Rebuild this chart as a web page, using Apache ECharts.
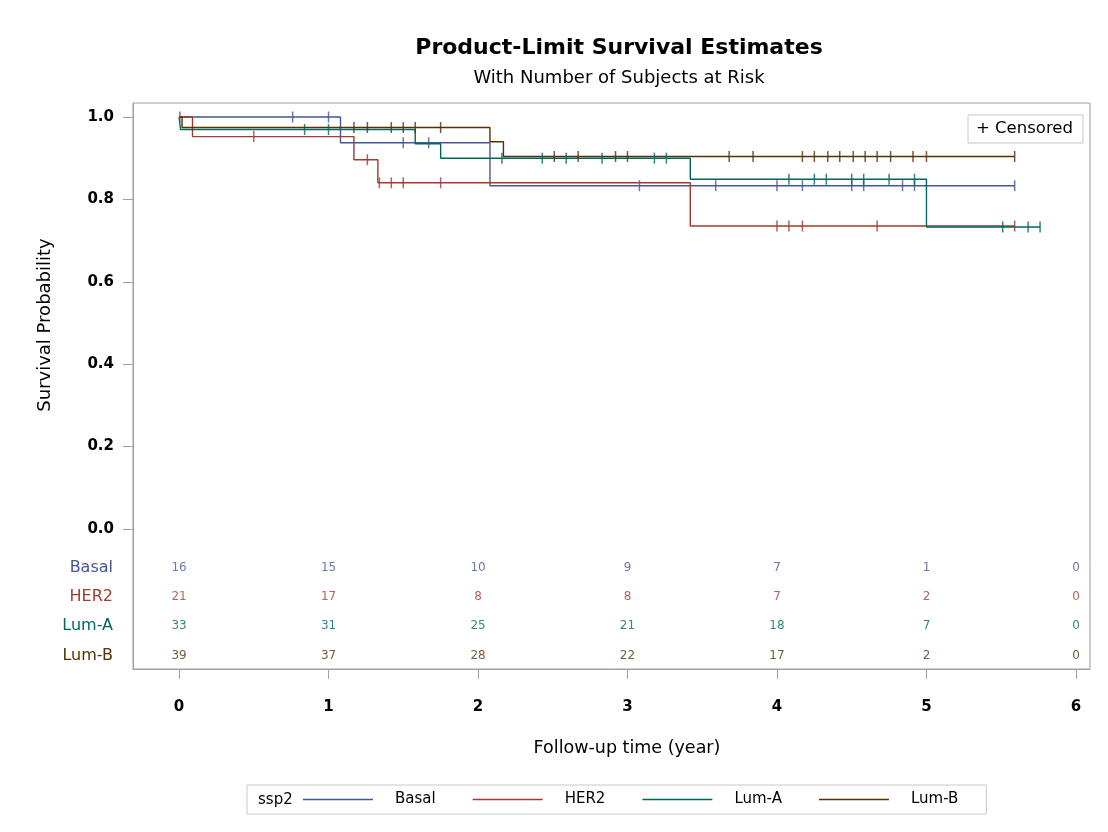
<!DOCTYPE html>
<html>
<head>
<meta charset="utf-8">
<script src="https://cdn.jsdelivr.net/npm/echarts@6/dist/echarts.min.js"></script>
<style>
html,body{margin:0;padding:0;background:#fff;}
#chart{width:1108px;height:832px;}
</style>
</head>
<body>
<div id="chart"></div>
<script>
// ---- data ----
const groups = ['Basal', 'HER2', 'Lum-A', 'Lum-B'];
const colors = ['#445694', '#A23A2E', '#01665E', '#543005'];

// Kaplan-Meier steps: event times and survival after each event
const basalTimes = [0, 1.08, 2.08];
const basalSurv  = [1, 0.9375, 0.8333];
const basalEnd = 5.59;
const basalCensor = [0.76, 1.0, 1.5, 1.67, 3.08, 3.59, 4.0, 4.17, 4.5, 4.58, 4.84, 4.92, 5.59];

const her2Times = [0, 0.09, 1.17, 1.33, 3.42];
const her2Surv  = [1, 0.9524, 0.8964, 0.8403, 0.7353];
const her2End = 5.59;
const her2Censor = [0.005, 0.5, 1.26, 1.34, 1.42, 1.5, 1.75, 4.0, 4.08, 4.17, 4.67, 5.59];

const lumATimes = [0, 0.01, 1.58, 1.75, 3.42, 5.0];
const lumASurv  = [1, 0.9697, 0.935, 0.90, 0.849, 0.733];
const lumAEnd = 5.76;
const lumACensor = [0.84, 1.0, 2.16, 2.43, 2.59, 2.83, 3.18, 3.26, 4.08, 4.25, 4.33, 4.5, 4.58, 4.75, 4.92, 5.51, 5.68, 5.76];

const lumBTimes = [0, 0.02, 2.08, 2.17];
const lumBSurv  = [1, 0.9744, 0.94, 0.904];
const lumBEnd = 5.59;
const lumBCensor = [1.17, 1.26, 1.42, 1.5, 1.58, 1.75, 2.51, 2.67, 2.92, 3.0, 3.68, 3.84, 4.17, 4.25, 4.34, 4.42, 4.51, 4.59, 4.67, 4.76, 4.91, 5.0, 5.59];

// number at risk
const riskTimes = [0, 1, 2, 3, 4, 5, 6];
const basalRisk = [16, 15, 10, 9, 7, 1, 0];
const her2Risk  = [21, 17, 8, 8, 7, 2, 0];
const lumARisk  = [33, 31, 25, 21, 18, 7, 0];
const lumBRisk  = [39, 37, 28, 22, 17, 2, 0];

const xTicks = [0, 1, 2, 3, 4, 5, 6];
const yTicks = [0, 0.2, 0.4, 0.6, 0.8, 1.0];

// ---- build ----
const FONT = 'DejaVu Sans';
const curves = [
  {t: basalTimes, s: basalSurv, end: basalEnd, c: basalCensor, r: basalRisk},
  {t: her2Times, s: her2Surv, end: her2End, c: her2Censor, r: her2Risk},
  {t: lumATimes, s: lumASurv, end: lumAEnd, c: lumACensor, r: lumARisk},
  {t: lumBTimes, s: lumBSurv, end: lumBEnd, c: lumBCensor, r: lumBRisk}
];
function survAt(times, surv, t) {
  let v = surv[0];
  for (let i = 0; i < times.length; i++) if (times[i] <= t) v = surv[i];
  return v;
}
const series = [];
const drawOrder = [0, 1, 3, 2];
drawOrder.forEach(function (gi) {
  const g = curves[gi];
  const data = g.t.map((t, i) => [t, g.s[i]]);
  data.push([g.end, g.s[g.s.length - 1]]);
  series.push({
    name: groups[gi], type: 'line', step: 'end', data: data,
    xAxisIndex: 0, yAxisIndex: 0,
    symbol: 'none', showSymbol: false, color: colors[gi],
    lineStyle: {width: 1.4, color: colors[gi]}, z: 2, animation: false
  });
});
drawOrder.forEach(function (gi) {
  const g = curves[gi];
  series.push({
    name: groups[gi] + ' censored', type: 'scatter',
    xAxisIndex: 0, yAxisIndex: 0,
    data: g.c.map(t => [t, survAt(g.t, g.s, t)]),
    symbol: 'rect', symbolSize: [1.5, 11],
    itemStyle: {color: colors[gi]}, z: 10, animation: false
  });
});
curves.forEach(function (g, gi) {
  series.push({
    name: groups[gi] + ' at risk', type: 'scatter',
    xAxisIndex: 1, yAxisIndex: 1,
    data: riskTimes.map((t, i) => [t, groups[gi], g.r[i]]),
    symbolSize: 0,
    label: {show: true, position: 'inside', formatter: p => String(p.value[2]),
      color: colors[gi], fontFamily: FONT, fontSize: 12},
    animation: false
  });
});

const chart = echarts.init(document.getElementById('chart'), null, {renderer: 'canvas'});
const xMin = -0.308, xMax = 6.094;
const yMin = -0.3398, yMax = 1.034;
chart.setOption({
  animation: false,
  backgroundColor: '#fff',
  textStyle: {fontFamily: FONT},
  title: {
    text: 'Product-Limit Survival Estimates',
    subtext: 'With Number of Subjects at Risk',
    left: 614, top: 32, textAlign: 'center', itemGap: 10,
    textStyle: {fontFamily: FONT, fontWeight: 'bold', fontSize: 22, color: '#000'},
    subtextStyle: {fontFamily: FONT, fontSize: 18, color: '#000'}
  },
  legend: {
    data: groups, left: 247, top: 785,
    padding: [7, 28, 7, 56], itemGap: 37, itemWidth: 70, itemHeight: 1.4,
    icon: 'rect', borderColor: '#c8c8c8', borderWidth: 1,
    textStyle: {fontFamily: FONT, fontSize: 15, color: '#000', padding: [0, 0, 0, 17]},
    selectedMode: false
  },
  grid: [
    {left: 133, right: 18, top: 103, bottom: 163, show: true, borderColor: '#a0a0a0', borderWidth: 1, backgroundColor: 'transparent'},
    {left: 133, right: 18, top: 553, height: 117, show: false}
  ],
  xAxis: [
    {type: 'value', gridIndex: 0, min: xMin, max: xMax,
      axisLine: {show: true, onZero: false, lineStyle: {color: '#a0a0a0'}},
      axisTick: {show: true, length: 10, customValues: xTicks, lineStyle: {color: '#a0a0a0'}},
      axisLabel: {customValues: xTicks, margin: 31, fontFamily: FONT, fontWeight: 'bold', fontSize: 15, color: '#000'},
      splitLine: {show: false}},
    {type: 'value', gridIndex: 1, min: xMin, max: xMax, show: false}
  ],
  yAxis: [
    {type: 'value', gridIndex: 0, min: yMin, max: yMax,
      axisLine: {show: true, onZero: false, lineStyle: {color: '#a0a0a0'}},
      axisTick: {show: true, length: 10, customValues: yTicks, lineStyle: {color: '#a0a0a0'}},
      axisLabel: {customValues: yTicks, margin: 19, formatter: v => Number(v).toFixed(1),
        fontFamily: FONT, fontWeight: 'bold', fontSize: 15, color: '#000'},
      splitLine: {show: false}},
    {type: 'category', gridIndex: 1, data: groups, inverse: true,
      axisLine: {show: false}, axisTick: {show: false},
      axisLabel: {margin: 20, fontFamily: FONT, fontSize: 16,
        color: function (v, i) { return colors[groups.indexOf(v)]; }}}
  ],
  graphic: [
    {type: 'text', x: 45, y: 325, rotation: Math.PI / 2,
      style: {text: 'Survival Probability', fontFamily: FONT, fontSize: 18, fill: '#000', textAlign: 'center', textVerticalAlign: 'middle'}},
    {type: 'text', x: 627, y: 748,
      style: {text: 'Follow-up time (year)', fontFamily: FONT, fontSize: 17.5, fill: '#000', textAlign: 'center', textVerticalAlign: 'middle'}},
    {type: 'text', x: 258, y: 800,
      style: {text: 'ssp2', fontFamily: FONT, fontSize: 15, fill: '#000', textAlign: 'left', textVerticalAlign: 'middle'}},
    {type: 'rect', shape: {x: 968, y: 115, width: 115, height: 28},
      style: {fill: '#fff', stroke: '#c8c8c8', lineWidth: 1}, z: 20},
    {type: 'text', x: 976, y: 129, z: 21,
      style: {text: '+ Censored', fontFamily: FONT, fontSize: 16.5, fill: '#000', textAlign: 'left', textVerticalAlign: 'middle'}}
  ],
  series: series
});
</script>
</body>
</html>
